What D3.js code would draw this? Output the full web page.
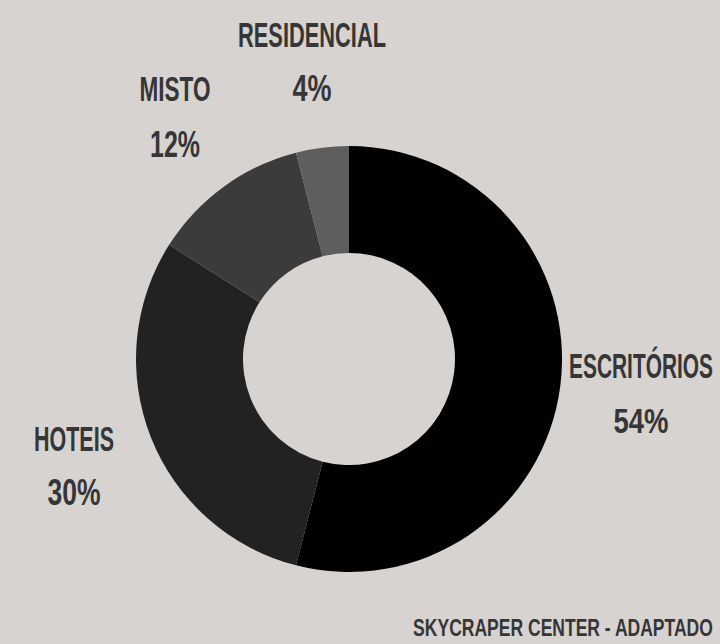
<!DOCTYPE html>
<html>
<head>
<meta charset="utf-8">
<script src="https://cdn.jsdelivr.net/npm/d3@7"></script>
<style>
  html, body { margin: 0; padding: 0; background: #d6d3d0; }
  svg { display: block; }
  text { font-family: "Liberation Sans Narrow", "Arial Narrow", sans-serif; font-weight: bold; fill: #363636; }
</style>
</head>
<body>
<script>
// ---- data ----
const categories = ["ESCRITÓRIOS", "HOTEIS", "MISTO", "RESIDENCIAL"];
const values = [54, 30, 12, 4];
const percentLabels = ["54%", "30%", "12%", "4%"];
const sourceNote = "SKYCRAPER CENTER - ADAPTADO";

// ---- layout / style ----
const W = 720, H = 644;
const cx = 349, cy = 359, rOuter = 213, rInner = 106;
const colors = d3.scaleOrdinal().domain(categories).range(["#010101", "#222222", "#3b3b3b", "#5e5e5e"]);

// label placement: [x center, name baseline, pct baseline, name width, pct width]
const labelLayout = {
  "ESCRITÓRIOS": [641, 378, 433, 144, 55],
  "HOTEIS":      [74, 451, 505, 80, 53],
  "MISTO":       [175, 101, 157, 71, 50],
  "RESIDENCIAL": [312, 47, 101, 148, 39]
};

const svg = d3.select("body").append("svg").attr("width", W).attr("height", H);
svg.append("rect").attr("width", W).attr("height", H).attr("fill", "#d6d3d0");

const data = categories.map((c, i) => ({ cat: c, value: values[i], pct: percentLabels[i] }));

const pie = d3.pie().value(d => d.value).sort(null);
const arc = d3.arc().innerRadius(rInner).outerRadius(rOuter);

svg.append("g").attr("transform", `translate(${cx},${cy})`)
  .selectAll("path").data(pie(data)).join("path")
  .attr("d", arc)
  .attr("fill", d => colors(d.data.cat));

// condensed text: natural glyphs squeezed horizontally to the target width
function condensed(parent, str, xCenter, baseline, width, size) {
  const t = parent.append("text")
    .attr("font-size", size)
    .attr("text-anchor", "middle")
    .text(str);
  const natural = t.node().getComputedTextLength();
  const k = width / natural;
  t.attr("transform", `translate(${xCenter},${baseline}) scale(${k},1)`);
  return t;
}

const labels = svg.append("g");
data.forEach(d => {
  const L = labelLayout[d.cat];
  condensed(labels, d.cat, L[0], L[1], L[3], 36);
  condensed(labels, d.pct, L[0], L[2], L[4], 36);
});

condensed(svg, sourceNote, 563, 636, 300, 24);
</script>
</body>
</html>
